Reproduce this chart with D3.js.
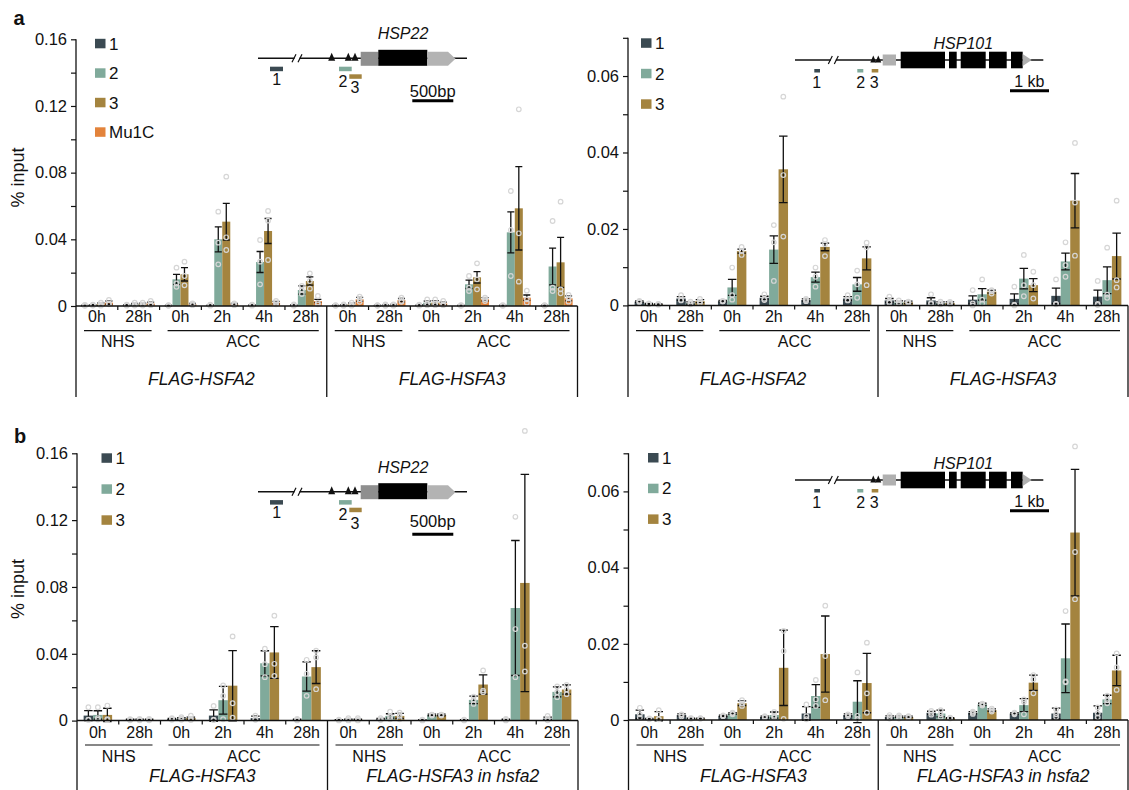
<!DOCTYPE html>
<html><head><meta charset="utf-8">
<script src="https://cdn.jsdelivr.net/npm/d3@7"></script>
<style>
body{margin:0;background:#fff}
svg{display:block}
text{font-family:Arial,"Liberation Sans",Helvetica,sans-serif;fill:#111}
</style>
</head><body>
<svg id="c" width="1129" height="790"></svg>
<script>
// ---------------- categories / labels ----------------
const timeLabels = ["0h","28h","0h","2h","4h","28h","0h","28h","0h","2h","4h","28h"];
const condGroups = [["NHS",0,1],["ACC",2,5],["NHS",6,7],["ACC",8,11]];
const genotypesA = ["FLAG-HSFA2","FLAG-HSFA3"];
const genotypesB = ["FLAG-HSFA3","FLAG-HSFA3 in hsfa2"];
const seriesNames4 = ["1","2","3","Mu1C"];
const seriesNames3 = ["1","2","3"];

// ---------------- panel a, HSP22 ----------------
const a22_mean_1 = [0.0003,0.0005,0.0003,0.0005,0.0005,0.0005,0.0003,0.0003,0.0005,0.0003,0.0003,0.0003];
const a22_err_1  = [0.0002,0.0003,0.0002,0.0003,0.0003,0.0003,0.0002,0.0002,0.0003,0.0002,0.0002,0.0002];
const a22_dots_1 = [[0.0006,0.0003,0.0001],[0.0008,0.0005,0.0002],[0.0005,0.0003,0.0001],[0.0008,0.0005,0.0002],[0.0008,0.0005,0.0002],[0.001,0.0004,0.0002],[0.0005,0.0003,0.0001],[0.0005,0.0003,0.0001],[0.0008,0.0005,0.0002],[0.0005,0.0003,0.0001],[0.0005,0.0003,0.0001],[0.0005,0.0003,0.0001]];
const a22_mean_2 = [0.0005,0.001,0.016,0.040,0.0264,0.0096,0.0005,0.0005,0.002,0.013,0.0442,0.0237];
const a22_err_2  = [0.0003,0.0005,0.003,0.0075,0.0063,0.0025,0.0003,0.0003,0.001,0.0025,0.0123,0.011];
const a22_dots_2 = [[0.0008,0.0004,0.0003],[0.002,0.0007,0.0003],[0.023,0.0135,0.0115],[0.0566,0.038,0.025],[0.0396,0.0266,0.013],[0.012,0.0096,0.0072],[0.001,0.0003,0.0002],[0.001,0.0003,0.0002],[0.004,0.0015,0.0005],[0.018,0.011,0.009],[0.069,0.0456,0.018],[0.051,0.011,0.009]];
const a22_mean_3 = [0.001,0.001,0.019,0.0506,0.045,0.015,0.001,0.0005,0.002,0.0172,0.0586,0.0262];
const a22_err_3  = [0.0008,0.0007,0.004,0.011,0.0075,0.0025,0.0008,0.0004,0.0012,0.0034,0.025,0.015];
const a22_dots_3 = [[0.002,0.0008,0.0002],[0.002,0.0008,0.0003],[0.0266,0.018,0.0124],[0.0776,0.0412,0.0336],[0.057,0.0512,0.0276],[0.0196,0.015,0.0104],[0.002,0.0008,0.0002],[0.001,0.0004,0.0002],[0.004,0.0015,0.0005],[0.0256,0.016,0.01],[0.118,0.0436,0.0146],[0.0626,0.01,0.0076]];
const a22_mean_M = [0.002,0.0015,0.001,0.001,0.002,0.003,0.004,0.0035,0.0015,0.004,0.005,0.0046];
const a22_err_M  = [0.001,0.0008,0.0005,0.0005,0.0008,0.001,0.0012,0.001,0.0008,0.001,0.0016,0.0015];
const a22_dots_M = [[0.0036,0.0015,0.001],[0.003,0.001,0.0005],[0.0015,0.001,0.0005],[0.0015,0.001,0.0005],[0.003,0.002,0.001],[0.006,0.002,0.001],[0.0056,0.004,0.0025],[0.005,0.003,0.0025],[0.003,0.001,0.0005],[0.005,0.004,0.003],[0.0092,0.004,0.002],[0.0066,0.0046,0.0026]];

// ---------------- panel a, HSP101 ----------------
const a101_mean_1 = [0.001,0.0018,0.0011,0.002,0.0014,0.0018,0.0013,0.0013,0.0015,0.0017,0.0025,0.0023];
const a101_err_1  = [0.0002,0.0005,0.0002,0.0004,0.0003,0.0005,0.0005,0.0007,0.001,0.0013,0.002,0.0017];
const a101_dots_1 = [[0.0012,0.001,0.0008],[0.0027,0.0014,0.0013],[0.0012,0.0011,0.001],[0.0029,0.0017,0.0014],[0.0017,0.0014,0.0011],[0.0027,0.0014,0.0013],[0.0023,0.0009,0.0007],[0.0029,0.0006,0.0004],[0.004,0.0005,0.0],[0.0049,0.0002,0.0],[0.0068,0.0004,0.0003],[0.0064,0.0004,0.0001]];
const a101_mean_2 = [0.0004,0.0006,0.0047,0.0146,0.0074,0.0055,0.0008,0.0006,0.0029,0.007,0.0115,0.0066];
const a101_err_2  = [0.0001,0.0003,0.0021,0.0036,0.0013,0.0018,0.0004,0.0003,0.0015,0.0027,0.0022,0.0035];
const a101_dots_2 = [[0.0005,0.0004,0.0003],[0.001,0.0005,0.0003],[0.0099,0.0027,0.0015],[0.021,0.0165,0.0064],[0.0099,0.0075,0.0049],[0.0091,0.0055,0.002],[0.0013,0.0007,0.0004],[0.001,0.0005,0.0003],[0.0068,0.0015,0.0005],[0.0132,0.0053,0.0024],[0.0165,0.0105,0.0075],[0.0151,0.0028,0.002]];
const a101_mean_3 = [0.0003,0.0011,0.0142,0.0356,0.0153,0.0123,0.0008,0.0006,0.0036,0.0053,0.0274,0.0129];
const a101_err_3  = [0.0001,0.0004,0.0005,0.0087,0.001,0.003,0.0003,0.0003,0.0004,0.0017,0.0071,0.006];
const a101_dots_3 = [[0.0004,0.0003,0.0002],[0.0017,0.001,0.0006],[0.0153,0.0142,0.0132],[0.0546,0.0341,0.018],[0.0171,0.016,0.0129],[0.0164,0.0152,0.0053],[0.001,0.0008,0.0006],[0.0009,0.0006,0.0003],[0.004,0.0037,0.0031],[0.0088,0.0053,0.0018],[0.0425,0.0269,0.013],[0.0274,0.0066,0.0047]];

// ---------------- panel b, HSP22 ----------------
const b22_mean_1 = [0.003,0.0005,0.001,0.003,0.0015,0.0005,0.0003,0.0008,0.0003,0.0003,0.0005,0.0012];
const b22_err_1  = [0.003,0.0003,0.0003,0.0034,0.0012,0.0003,0.0002,0.0005,0.0002,0.0002,0.0003,0.0009];
const b22_dots_1 = [[0.008,0.0006,0.0004],[0.0008,0.0005,0.0002],[0.0015,0.001,0.0005],[0.0088,0.0005,0.0003],[0.003,0.001,0.0005],[0.001,0.0004,0.0001],[0.0005,0.0003,0.0001],[0.0015,0.0006,0.0003],[0.0005,0.0003,0.0001],[0.0005,0.0003,0.0001],[0.001,0.0004,0.0001],[0.0028,0.0012,0.0002]];
const b22_mean_2 = [0.0034,0.0005,0.0012,0.0122,0.0343,0.0264,0.0005,0.0028,0.0034,0.0124,0.0674,0.0172];
const b22_err_2  = [0.0025,0.0003,0.0005,0.0083,0.0075,0.0087,0.0003,0.0013,0.0005,0.0022,0.0404,0.003];
const b22_dots_2 = [[0.008,0.0015,0.0006],[0.001,0.0004,0.0002],[0.002,0.0012,0.0005],[0.021,0.0148,0.0008],[0.043,0.0338,0.026],[0.0364,0.028,0.0148],[0.0014,0.0003,0.0001],[0.0054,0.0022,0.0008],[0.0036,0.0034,0.003],[0.0144,0.0124,0.01],[0.122,0.0548,0.026],[0.0204,0.017,0.014]];
const b22_mean_3 = [0.0034,0.0005,0.0015,0.0209,0.0408,0.032,0.0005,0.0028,0.0034,0.0216,0.0824,0.0186];
const b22_err_3  = [0.004,0.0003,0.0006,0.021,0.0155,0.0098,0.0003,0.0015,0.0005,0.0058,0.065,0.0028];
const b22_dots_3 = [[0.009,0.0008,0.0004],[0.001,0.0004,0.0002],[0.003,0.0012,0.0003],[0.0504,0.0104,0.0018],[0.0628,0.034,0.0268],[0.0418,0.0378,0.0188],[0.0014,0.0003,0.0001],[0.0048,0.0028,0.0008],[0.0036,0.0034,0.003],[0.03,0.018,0.017],[0.1734,0.0448,0.0294],[0.0214,0.0186,0.0158]];

// ---------------- panel b, HSP101 ----------------
const b101_mean_1 = [0.0015,0.0013,0.0011,0.0008,0.0017,0.0013,0.0008,0.0019,0.0019,0.0017,0.0017,0.0019];
const b101_err_1  = [0.0011,0.0003,0.0002,0.0002,0.0018,0.0003,0.0003,0.0004,0.0003,0.0002,0.0014,0.0018];
const b101_dots_1 = [[0.0032,0.0015,0.0006],[0.0015,0.0013,0.0009],[0.0012,0.0011,0.001],[0.001,0.0008,0.0006],[0.0041,0.001,0.0002],[0.0015,0.0013,0.001],[0.0013,0.0008,0.0004],[0.0024,0.0019,0.0014],[0.0022,0.0019,0.0016],[0.0019,0.0017,0.0015],[0.0028,0.0015,0.0008],[0.0033,0.0017,0.0007]];
const b101_mean_2 = [0.0003,0.0004,0.0017,0.0013,0.0063,0.0048,0.0008,0.0017,0.0041,0.0039,0.0162,0.0054];
const b101_err_2  = [0.0001,0.0001,0.0002,0.0008,0.003,0.0055,0.0002,0.0009,0.0003,0.0017,0.009,0.0011];
const b101_dots_2 = [[0.0004,0.0003,0.0002],[0.0005,0.0004,0.0003],[0.0019,0.0017,0.0015],[0.0021,0.0011,0.0007],[0.0105,0.0054,0.0037],[0.0125,0.0011,0.0003],[0.0012,0.0008,0.0004],[0.0026,0.0015,0.0008],[0.0043,0.0041,0.0038],[0.0054,0.0048,0.0015],[0.0286,0.0101,0.0099],[0.0064,0.0052,0.0044]];
const b101_mean_3 = [0.001,0.0004,0.0044,0.0137,0.0173,0.0097,0.0008,0.0005,0.0026,0.0098,0.0492,0.013];
const b101_err_3  = [0.0012,0.0001,0.0006,0.0099,0.01,0.0078,0.0002,0.0001,0.0003,0.002,0.0166,0.004];
const b101_dots_3 = [[0.0026,0.0003,0.0002],[0.0005,0.0004,0.0003],[0.0052,0.0043,0.0037],[0.0234,0.0181,0.0003],[0.03,0.0168,0.0052],[0.0203,0.007,0.0019],[0.001,0.0008,0.0006],[0.0006,0.0005,0.0004],[0.003,0.0026,0.0022],[0.0118,0.0107,0.007],[0.0718,0.0441,0.0317],[0.0175,0.0138,0.0079]];

// ---------------- drawing ----------------
const colors = {"1":"#3b4a52","2":"#80aa9b","3":"#a4843f","Mu1C":"#e3833b"};
const svg = d3.select("#c");
const FS = 16;

function panel(cfg){
  const g = svg.append("g");
  const x = d3.scaleBand().domain(d3.range(12)).range([cfg.x0, cfg.x1]);
  const names = cfg.series.map(s=>s.name);
  const xi = d3.scaleBand().domain(names).range([0, x.bandwidth()]).paddingOuter(cfg.pad);
  const y = d3.scaleLinear().domain([0, cfg.max]).range([cfg.yB, cfg.yT]);
  const bw = xi.bandwidth();

  // bars
  cfg.series.forEach(s=>{
    g.append("g").selectAll("rect").data(s.mean).join("rect")
      .attr("x",(d,i)=>x(i)+xi(s.name)).attr("width",bw)
      .attr("y",d=>y(d)).attr("height",d=>y(0)-y(d))
      .attr("fill",colors[s.name]);
  });
  // error bars
  cfg.series.forEach(s=>{
    const eg = g.append("g").attr("stroke","#111").attr("stroke-width",1.3).attr("fill","none");
    const cx = i => x(i)+xi(s.name)+bw/2;
    const rows = s.mean.map((m,i)=>({i, lo:m-s.err[i], hi:m+s.err[i]}));
    eg.selectAll("path").data(rows).join("path")
      .attr("d",r=>`M${cx(r.i)},${y(r.lo)}V${y(r.hi)}M${cx(r.i)-bw/2+0.5},${y(r.hi)}H${cx(r.i)+bw/2-0.5}M${cx(r.i)-bw/2+0.5},${y(r.lo)}H${cx(r.i)+bw/2-0.5}`);
  });
  // dots
  cfg.series.forEach(s=>{
    const pts = [];
    s.dots.forEach((arr,i)=>arr.forEach(v=>pts.push({i,v})));
    g.append("g").selectAll("circle").data(pts).join("circle")
      .attr("cx",p=>x(p.i)+xi(s.name)+bw/2).attr("cy",p=>y(p.v)).attr("r",2.3)
      .attr("fill","none").attr("stroke","#d6d6d6").attr("stroke-width",1.2);
  });

  // y axis
  const tv = d3.range(0, Math.round(cfg.max/cfg.step)+1).map(k=>k*cfg.step);
  const ax = d3.axisLeft(y).tickValues(tv).tickSize(5).tickSizeOuter(0).tickPadding(4)
    .tickFormat((d,i)=> i%2===0 ? (i===0 ? "0" : d3.format(".2f")(d)) : "");
  const ag = g.append("g").attr("transform",`translate(${cfg.x0},0)`).call(ax);
  ag.select(".domain").remove();
  ag.selectAll("line").attr("stroke","#111").attr("stroke-width",1.2);
  ag.selectAll("text").attr("font-size","16.5px").attr("fill","#111").attr("font-family","Arial, 'Liberation Sans', sans-serif");
  // axis line extends down
  g.append("line").attr("x1",cfg.x0).attr("x2",cfg.x0).attr("y1",cfg.yT).attr("y2",cfg.row.lineBottom)
    .attr("stroke","#111").attr("stroke-width",1.3);
  // x axis line
  g.append("line").attr("x1",cfg.x0).attr("x2",cfg.x1).attr("y1",y(0)).attr("y2",y(0))
    .attr("stroke","#111").attr("stroke-width",1.5);
  // group ticks
  const tk = d3.range(1,12).filter(i=>i!==6);
  g.append("g").selectAll("line").data(tk).join("line")
    .attr("x1",i=>x(i)).attr("x2",i=>x(i)).attr("y1",y(0)).attr("y2",y(0)+4)
    .attr("stroke","#111").attr("stroke-width",1.2);
  // divider lines
  [x(6), cfg.x1].forEach(xx=>{
    g.append("line").attr("x1",xx).attr("x2",xx).attr("y1",y(0)).attr("y2",cfg.row.lineBottom)
      .attr("stroke","#111").attr("stroke-width",1.3);
  });
  // time labels
  g.append("g").selectAll("text").data(timeLabels).join("text")
    .attr("x",(d,i)=>x(i)+x.bandwidth()/2).attr("y",cfg.row.tickY)
    .attr("text-anchor","middle").attr("font-size",FS+"px").text(d=>d);
  // condition underlines + labels
  condGroups.forEach(([lab,a,b])=>{
    const xa = x(a)+8, xb = x(b)+x.bandwidth()-8;
    g.append("line").attr("x1",xa).attr("x2",xb).attr("y1",cfg.row.ulY).attr("y2",cfg.row.ulY)
      .attr("stroke","#111").attr("stroke-width",1.2);
    g.append("text").attr("x",(xa+xb)/2).attr("y",cfg.row.condY).attr("text-anchor","middle")
      .attr("font-size",FS+"px").text(lab);
  });
  // genotype labels
  cfg.genotypes.forEach((lab,k)=>{
    const xa = k===0 ? cfg.x0 : x(6), xb = k===0 ? x(6) : cfg.x1;
    g.append("text").attr("x",(xa+xb)/2).attr("y",cfg.row.genoY).attr("text-anchor","middle")
      .attr("font-size","17.5px").attr("font-style","italic").text(lab);
  });
  // legend
  names.forEach((n,k)=>{
    const cy = cfg.legend.y + k*cfg.legend.dy;
    g.append("rect").attr("x",cfg.legend.x).attr("y",cy-4.7).attr("width",10.5).attr("height",9.5).attr("fill",colors[n]);
    g.append("text").attr("x",cfg.legend.x+14).attr("y",cy+6).attr("font-size","17px").text(n);
  });
}

const rowA = {tickY:322, ulY:330.7, condY:346.7, genoY:385, lineBottom:397};
const rowB = {tickY:738, ulY:745, condY:761.7, genoY:781.7, lineBottom:790};

const mk = (names, means, errs, dots) => names.map((n,k)=>({name:n, mean:means[k], err:errs[k], dots:dots[k]}));

panel({x0:76, x1:577.5, yT:39.3, yB:306, max:0.16, step:0.02, pad:0.61, row:rowA, genotypes:genotypesA,
  legend:{x:95, y:43.5, dy:29.5},
  series: mk(seriesNames4, [a22_mean_1,a22_mean_2,a22_mean_3,a22_mean_M], [a22_err_1,a22_err_2,a22_err_3,a22_err_M], [a22_dots_1,a22_dots_2,a22_dots_3,a22_dots_M])});
panel({x0:628, x1:1128, yT:37.8, yB:305.4, max:0.07, step:0.01, pad:0.7, row:rowA, genotypes:genotypesA,
  legend:{x:641, y:43, dy:30.5},
  series: mk(seriesNames3, [a101_mean_1,a101_mean_2,a101_mean_3], [a101_err_1,a101_err_2,a101_err_3], [a101_dots_1,a101_dots_2,a101_dots_3])});
panel({x0:77, x1:578, yT:453.3, yB:720.6, max:0.16, step:0.02, pad:0.7, row:rowB, genotypes:genotypesB,
  legend:{x:101.5, y:458, dy:31},
  series: mk(seriesNames3, [b22_mean_1,b22_mean_2,b22_mean_3], [b22_err_1,b22_err_2,b22_err_3], [b22_dots_1,b22_dots_2,b22_dots_3])});
panel({x0:628.5, x1:1128, yT:453.3, yB:720, max:0.07, step:0.01, pad:0.7, row:rowB, genotypes:genotypesB,
  legend:{x:648, y:457.7, dy:30.7},
  series: mk(seriesNames3, [b101_mean_1,b101_mean_2,b101_mean_3], [b101_err_1,b101_err_2,b101_err_3], [b101_dots_1,b101_dots_2,b101_dots_3])});

// ---------------- gene diagrams ----------------
function slashBreak(d, bx, y0){
  d.append("rect").attr("x",bx-2.5).attr("y",y0-2).attr("width",5).attr("height",4).attr("fill","#fff");
  d.append("path").attr("d",`M${bx-5},${y0+4}L${bx-1},${y0-4}M${bx+1},${y0+4}L${bx+5},${y0-4}`)
    .attr("stroke","#111").attr("stroke-width",1.2).attr("fill","none");
}
function tri(d, tx, y0, w, h){
  d.append("path").attr("d",`M${tx-w/2},${y0+2.5}L${tx+w/2},${y0+2.5}L${tx},${y0+2.5-h}Z`).attr("fill","#111");
}
function hsp22(y0, o){
  const d = svg.append("g");
  d.append("line").attr("x1",258).attr("x2",467).attr("y1",y0).attr("y2",y0).attr("stroke","#111").attr("stroke-width",1.4);
  slashBreak(d, 297, y0);
  [331.7,348.3,355].forEach(tx=>tri(d, tx, y0, 7, 8));
  d.append("rect").attr("x",360.7).attr("y",y0-6.5).attr("width",17.8).attr("height",14).attr("fill","#8f8f8f");
  d.append("rect").attr("x",378.3).attr("y",y0-8.5).attr("width",49).attr("height",16).attr("fill","#000");
  d.append("path").attr("d",`M427.3,${y0-6.5}L448,${y0-6.5}L455.5,${y0+0.5}L448,${y0+7.5}L427.3,${y0+7.5}Z`).attr("fill","#b3b3b3");
  d.append("text").attr("x",403).attr("y",y0-19).attr("text-anchor","middle").attr("font-size","16px").attr("font-style","italic").text("HSP22");
  d.append("rect").attr("x",270).attr("y",y0+8.4).attr("width",13).attr("height",4.5).attr("fill",colors["1"]);
  d.append("rect").attr("x",339).attr("y",y0+8.4).attr("width",12.7).attr("height",4.5).attr("fill",colors["2"]);
  d.append("rect").attr("x",349.3).attr("y",y0+16).attr("width",12.4).attr("height",4.5).attr("fill",colors["3"]);
  d.append("text").attr("x",276.7).attr("y",y0+26.7).attr("text-anchor","middle").attr("font-size","16px").text("1");
  d.append("text").attr("x",343).attr("y",y0+28.5).attr("text-anchor","middle").attr("font-size","16px").text("2");
  d.append("text").attr("x",355).attr("y",y0+o.l3).attr("text-anchor","middle").attr("font-size","16px").text("3");
  d.append("text").attr("x",432.7).attr("y",y0+o.sb).attr("text-anchor","middle").attr("font-size","16.5px").text("500bp");
  d.append("line").attr("x1",412.3).attr("x2",453.3).attr("y1",y0+42.5).attr("y2",y0+42.5).attr("stroke","#000").attr("stroke-width",3);
}
function hsp101(y0){
  const d = svg.append("g");
  d.append("line").attr("x1",795).attr("x2",1043.3).attr("y1",y0).attr("y2",y0).attr("stroke","#111").attr("stroke-width",1.4);
  slashBreak(d, 833.3, y0);
  [873.3,878.3].forEach(tx=>tri(d, tx, y0, 6, 7));
  d.append("rect").attr("x",882.7).attr("y",y0-5.5).attr("width",13.3).attr("height",11).attr("fill","#b0b0b0");
  [[900.7,945],[949,956.7],[960.7,985.7],[989,1006.7],[1011,1022.7]].forEach(([a,b])=>{
    d.append("rect").attr("x",a).attr("y",y0-8.3).attr("width",b-a).attr("height",16.6).attr("fill","#000");
  });
  d.append("path").attr("d",`M1022.7,${y0-6}L1031.7,${y0}L1022.7,${y0+6}Z`).attr("fill","#b0b0b0");
  d.append("text").attr("x",963.3).attr("y",y0-11).attr("text-anchor","middle").attr("font-size","16px").attr("font-style","italic").text("HSP101");
  d.append("rect").attr("x",814.3).attr("y",y0+9).attr("width",5.7).attr("height",3.5).attr("fill",colors["1"]);
  d.append("rect").attr("x",857.3).attr("y",y0+9).attr("width",6).attr("height",3.5).attr("fill",colors["2"]);
  d.append("rect").attr("x",871.7).attr("y",y0+9).attr("width",6.6).attr("height",3.5).attr("fill",colors["3"]);
  [["1",816.7],["2",860.7],["3",874.3]].forEach(([t,tx])=>{
    d.append("text").attr("x",tx).attr("y",y0+28.3).attr("text-anchor","middle").attr("font-size","16px").text(t);
  });
  d.append("text").attr("x",1029.3).attr("y",y0+27.3).attr("text-anchor","middle").attr("font-size","16px").text("1 kb");
  d.append("line").attr("x1",1010).attr("x2",1049).attr("y1",y0+30.8).attr("y2",y0+30.8).attr("stroke","#000").attr("stroke-width",3);
}
hsp22(58.3, {l3:35, sb:38.4});
hsp22(491.7, {l3:37.5, sb:35.6});
hsp101(60);
hsp101(480);

// ---------------- panel letters, y titles ----------------
svg.append("text").attr("x",13.5).attr("y",25).attr("font-size","20px").attr("font-weight","bold").text("a");
svg.append("text").attr("x",14).attr("y",443.3).attr("font-size","20px").attr("font-weight","bold").text("b");
[177.5, 589].forEach(cy=>{
  svg.append("text").attr("transform",`translate(24,${cy}) rotate(-90)`).attr("text-anchor","middle")
    .attr("font-size","18px").text("% input");
});
</script>
</body></html>
